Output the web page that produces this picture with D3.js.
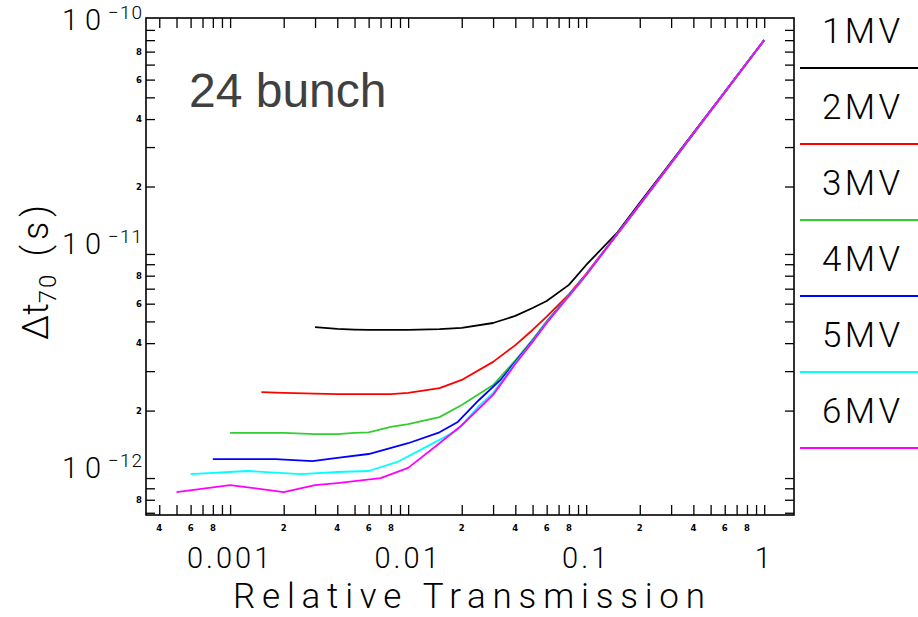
<!DOCTYPE html>
<html>
<head>
<meta charset="utf-8">
<script src="https://cdn.jsdelivr.net/npm/d3@7"></script>
<style>
  html, body { margin: 0; padding: 0; background: #fff; }
  svg { display: block; }
  .thin { font-family: "Roboto", "Lato", "DejaVu Sans", sans-serif; font-weight: 300; fill: #000; }
  .minor { font-family: "DejaVu Sans", sans-serif; font-weight: bold; font-size: 8.5px; fill: #000; }
</style>
</head>
<body>
<svg id="chart" width="918" height="617"></svg>
<script>
// Relative transmission vs. 70% bunch duration, 24-bunch mode, for RF voltages 1–6 MV
const trans1MV = [0.003, 0.004, 0.005, 0.006, 0.008, 0.01, 0.015, 0.02, 0.03, 0.04, 0.05, 0.06, 0.08, 0.1, 0.15, 0.2, 0.3, 0.4, 0.5, 0.6, 0.8, 1];
const dt1MV    = [4.72e-12, 4.63e-12, 4.60e-12, 4.58e-12, 4.58e-12, 4.58e-12, 4.62e-12, 4.68e-12, 4.92e-12, 5.29e-12, 5.74e-12, 6.17e-12, 7.28e-12, 8.93e-12, 1.25e-11, 1.69e-11, 2.57e-11, 3.47e-11, 4.38e-11, 5.29e-11, 7.15e-11, 9.02e-11];

const trans2MV = [0.0015, 0.002, 0.003, 0.004, 0.006, 0.008, 0.01, 0.015, 0.02, 0.03, 0.04, 0.05, 0.06, 0.08, 0.1, 0.15, 0.2, 0.3, 0.4, 0.5, 0.6, 0.8, 1];
const dt2MV    = [2.42e-12, 2.40e-12, 2.38e-12, 2.37e-12, 2.37e-12, 2.37e-12, 2.40e-12, 2.52e-12, 2.74e-12, 3.30e-12, 3.92e-12, 4.58e-12, 5.25e-12, 6.60e-12, 8.15e-12, 1.235e-11, 1.665e-11, 2.55e-11, 3.45e-11, 4.36e-11, 5.27e-11, 7.13e-11, 9.0e-11];

const trans3MV = [0.001, 0.0015, 0.002, 0.003, 0.004, 0.005, 0.006, 0.008, 0.01, 0.015, 0.02, 0.03, 0.04, 0.05, 0.06, 0.08, 0.1, 0.15, 0.2, 0.3, 0.4, 0.5, 0.6, 0.8, 1];
const dt3MV    = [1.59e-12, 1.59e-12, 1.59e-12, 1.57e-12, 1.57e-12, 1.59e-12, 1.60e-12, 1.69e-12, 1.74e-12, 1.87e-12, 2.12e-12, 2.60e-12, 3.35e-12, 4.15e-12, 5.00e-12, 6.55e-12, 8.10e-12, 1.232e-11, 1.662e-11, 2.545e-11, 3.445e-11, 4.355e-11, 5.265e-11, 7.125e-11, 9.0e-11];

const trans4MV = [0.0008, 0.0018, 0.0029, 0.004, 0.006, 0.01, 0.015, 0.019, 0.025, 0.033, 0.04, 0.05, 0.06, 0.08, 0.1, 0.15, 0.2, 0.3, 0.4, 0.5, 0.6, 0.8, 1];
const dt4MV    = [1.215e-12, 1.215e-12, 1.19e-12, 1.23e-12, 1.28e-12, 1.43e-12, 1.60e-12, 1.78e-12, 2.23e-12, 2.74e-12, 3.30e-12, 4.10e-12, 4.96e-12, 6.52e-12, 8.08e-12, 1.231e-11, 1.661e-11, 2.542e-11, 3.442e-11, 4.352e-11, 5.262e-11, 7.122e-11, 9.0e-11];

const trans5MV = [0.0006, 0.00125, 0.0025, 0.004, 0.006, 0.0087, 0.015, 0.019, 0.025, 0.03, 0.04, 0.05, 0.06, 0.08, 0.1, 0.15, 0.2, 0.3, 0.4, 0.5, 0.6, 0.8, 1];
const dt5MV    = [1.04e-12, 1.075e-12, 1.04e-12, 1.064e-12, 1.075e-12, 1.18e-12, 1.48e-12, 1.64e-12, 2.10e-12, 2.40e-12, 3.26e-12, 4.07e-12, 4.94e-12, 6.50e-12, 8.07e-12, 1.23e-11, 1.66e-11, 2.54e-11, 3.44e-11, 4.35e-11, 5.26e-11, 7.12e-11, 9.0e-11];

const trans6MV = [0.0005, 0.001, 0.002, 0.003, 0.004, 0.007, 0.01, 0.015, 0.02, 0.03, 0.04, 0.05, 0.06, 0.08, 0.1, 0.15, 0.2, 0.3, 0.4, 0.5, 0.6, 0.8, 1];
const dt6MV    = [8.66e-13, 9.30e-13, 8.66e-13, 9.30e-13, 9.50e-13, 1.00e-12, 1.11e-12, 1.43e-12, 1.72e-12, 2.35e-12, 3.23e-12, 4.05e-12, 4.92e-12, 6.49e-12, 8.06e-12, 1.23e-11, 1.66e-11, 2.54e-11, 3.44e-11, 4.35e-11, 5.26e-11, 7.12e-11, 9.0e-11];

const seriesNames  = ["1MV", "2MV", "3MV", "4MV", "5MV", "6MV"];
const seriesColors = ["#000000", "#ff0000", "#33cc33", "#0000ff", "#00ffff", "#ff00ff"];
const seriesTrans  = [trans1MV, trans2MV, trans3MV, trans4MV, trans5MV, trans6MV];
const seriesDt     = [dt1MV, dt2MV, dt3MV, dt4MV, dt5MV, dt6MV];

// Axis ticks and labels
const xMajorValues = [0.001, 0.01, 0.1, 1];
const xMajorLabels = ["0.001", "0.01", "0.1", "1"];
const xMinorLabelValues = [4e-4, 6e-4, 8e-4, 2e-3, 4e-3, 6e-3, 8e-3, 2e-2, 4e-2, 6e-2, 8e-2, 0.2, 0.4, 0.6, 0.8];
const xMinorLabels = ["4", "6", "8", "2", "4", "6", "8", "2", "4", "6", "8", "2", "4", "6", "8"];
const yMajorValues = [1e-12, 1e-11, 1e-10];
const yMajorExponents = ["\u221212", "\u221211", "\u221210"];
const yMinorLabelValues = [8e-13, 2e-12, 4e-12, 6e-12, 8e-12, 2e-11, 4e-11, 6e-11, 8e-11];
const yMinorLabels = ["8", "2", "4", "6", "8", "2", "4", "6", "8"];

const xDomain = [3.37e-4, 1.47];
const yDomain = [6.84e-13, 1.13e-10];

const svg = d3.select("#chart");
const plotL = 146, plotR = 794, plotT = 18, plotB = 515;

const x = d3.scaleLog().domain(xDomain).range([plotL, plotR]);
const y = d3.scaleLog().domain(yDomain).range([plotB, plotT]);

// every integer multiple inside the domain
function logTicks(domain) {
  const out = [];
  for (let e = Math.floor(Math.log10(domain[0])); e <= Math.ceil(Math.log10(domain[1])); e++) {
    for (let m = 1; m <= 9; m++) {
      const v = m * Math.pow(10, e);
      if (v >= domain[0] && v <= domain[1] * 1.0000001) out.push(v);
    }
  }
  return out;
}
const xTicks = logTicks(xDomain);
const yTicks = logTicks(yDomain);

const axisStyle = g => {
  g.select(".domain").remove();
  g.selectAll(".tick line").attr("stroke", "#000").attr("stroke-width", 1.3);
};

svg.append("g").attr("transform", `translate(0,${plotB})`)
  .call(d3.axisBottom(x).tickValues(xTicks).tickSize(-10).tickFormat(""))
  .call(axisStyle);
svg.append("g").attr("transform", `translate(0,${plotT})`)
  .call(d3.axisTop(x).tickValues(xTicks).tickSize(-10).tickFormat(""))
  .call(axisStyle);
svg.append("g").attr("transform", `translate(${plotL},0)`)
  .call(d3.axisLeft(y).tickValues(yTicks).tickSize(-9).tickFormat(""))
  .call(axisStyle);
svg.append("g").attr("transform", `translate(${plotR},0)`)
  .call(d3.axisRight(y).tickValues(yTicks).tickSize(-9).tickFormat(""))
  .call(axisStyle);

// plot frame
svg.append("rect")
  .attr("x", plotL).attr("y", plotT)
  .attr("width", plotR - plotL).attr("height", plotB - plotT)
  .attr("fill", "none").attr("stroke", "#000").attr("stroke-width", 1.6);

// curves
const line = d3.line().x(d => x(d[0])).y(d => y(d[1]));
seriesNames.forEach((name, i) => {
  const pts = seriesTrans[i].map((t, k) => [t, seriesDt[i][k]]);
  svg.append("path")
    .attr("d", line(pts))
    .attr("fill", "none")
    .attr("stroke", seriesColors[i])
    .attr("stroke-width", 1.8)
    .attr("stroke-linejoin", "round");
});

// x tick labels
svg.append("g").selectAll("text").data(xMinorLabelValues).join("text")
  .attr("class", "minor")
  .attr("x", d => x(d)).attr("y", 531)
  .attr("text-anchor", "middle")
  .text((d, i) => xMinorLabels[i]);
svg.append("g").selectAll("text").data(xMajorValues).join("text")
  .attr("class", "thin")
  .attr("x", d => x(d)).attr("y", 568)
  .attr("text-anchor", "middle")
  .attr("font-size", 29)
  .attr("letter-spacing", 3)
  .text((d, i) => xMajorLabels[i]);

// y tick labels
svg.append("g").selectAll("text").data(yMinorLabelValues).join("text")
  .attr("class", "minor")
  .attr("x", 142).attr("y", d => y(d) + 3)
  .attr("text-anchor", "end")
  .text((d, i) => yMinorLabels[i]);
const yMaj = svg.append("g").selectAll("text").data(yMajorValues).join("text")
  .attr("class", "thin")
  .attr("x", 143).attr("y", d => y(d))
  .attr("text-anchor", "end")
  .attr("font-size", 29);
yMaj.append("tspan").attr("letter-spacing", 7).text("10");
yMaj.append("tspan").attr("font-size", 19).attr("dy", -11).attr("letter-spacing", 1).text((d, i) => yMajorExponents[i]);

// axis titles
svg.append("text").attr("class", "thin")
  .attr("x", 469).attr("y", 608)
  .attr("text-anchor", "middle")
  .attr("font-size", 35)
  .attr("textLength", 472).attr("lengthAdjust", "spacing")
  .text("Relative Transmission");

const yt = svg.append("text").attr("class", "thin")
  .attr("transform", "translate(48,270) rotate(-90)")
  .attr("text-anchor", "middle")
  .attr("font-size", 36);
yt.append("tspan").text("\u0394t");
yt.append("tspan").attr("font-size", 24).attr("dy", 8).attr("letter-spacing", 2).text("70");
yt.append("tspan").attr("dy", -8).attr("dx", 16).attr("letter-spacing", 5).text("(s)");

// annotation
svg.append("text")
  .attr("x", 189).attr("y", 107)
  .attr("font-family", "'Liberation Sans', Arial, sans-serif")
  .attr("font-size", 48)
  .attr("fill", "#404040")
  .text("24 bunch");

// legend at right
const legY0 = 68, legStep = 76;
seriesNames.forEach((name, i) => {
  const ly = legY0 + i * legStep;
  svg.append("text").attr("class", "thin")
    .attr("x", 861).attr("y", ly - 25)
    .attr("text-anchor", "middle")
    .attr("font-size", 35)
    .attr("textLength", 78).attr("lengthAdjust", "spacing")
    .text(name);
  svg.append("line")
    .attr("x1", 800).attr("x2", 918)
    .attr("y1", ly).attr("y2", ly)
    .attr("stroke", seriesColors[i])
    .attr("stroke-width", 2);
});
</script>
</body>
</html>
